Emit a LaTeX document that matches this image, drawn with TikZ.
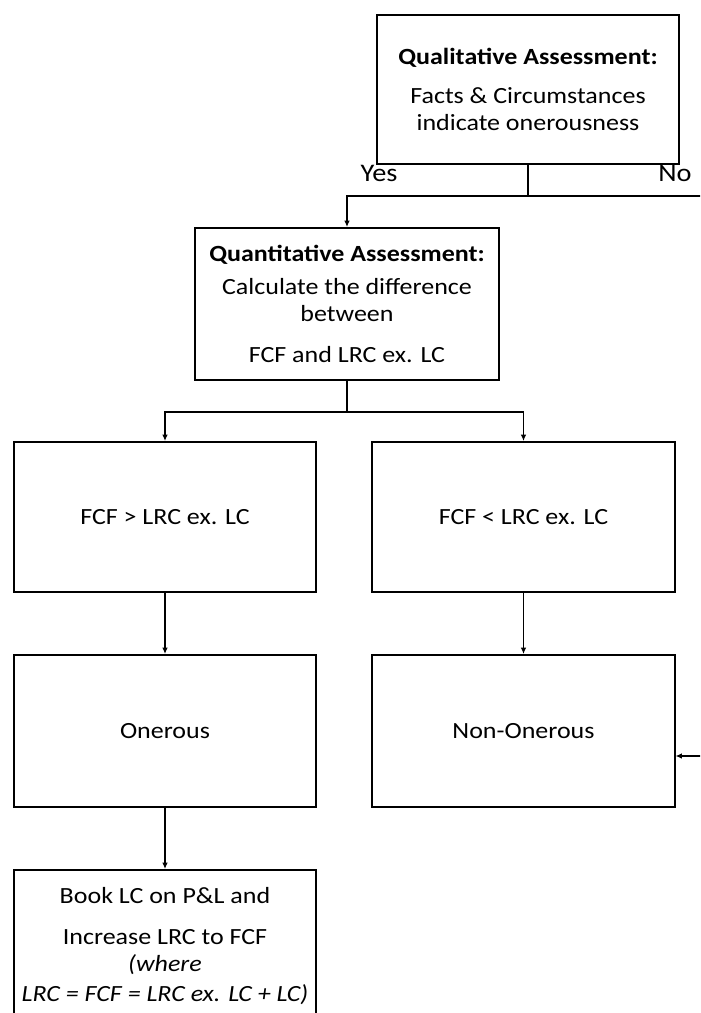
\documentclass[tikz,border=0pt]{standalone}
\usepackage{fontspec}
\setmainfont{Carlito}[FakeStretch=1.12]
\usetikzlibrary{arrows.meta,positioning}

\begin{document}
\begin{tikzpicture}[x=0.025cm, y=-0.025cm, thick]
\tikzstyle{box} = [draw, line width=1.4pt, minimum width=7.55cm, minimum height=3.8cm, inner sep=0pt, align=center, font=\fontsize{16.5}{19.2}\selectfont]
\tikzstyle{lbl} = [font=\fontsize{18}{20}\selectfont, inner sep=0pt, anchor=base]
\tikzstyle{link} = [-{Latex[length=4.5pt,width=4pt]}, line width=1.2pt]
\useasboundingbox (0,0) rectangle (700,1013);
\clip (0,0) rectangle (700,1013);

\node[box, minimum height=3.725cm] (qual) at (528,89.5)
	{\textbf{Qualitative Assessment:}\\[9pt] Facts \& Circumstances\\ indicate onerousness};
\node[box, minimum width=7.6cm] (quant) at (347,304)
	{\textbf{Quantitative Assessment:}\\[4pt] Calculate the difference\\ between\\[10pt] FCF and LRC ex. LC};
\node[box, minimum height=3.75cm] (gt) at (165,517) {FCF > LRC ex. LC};
\node[box, minimum height=3.75cm] (lt) at (523.5,517) {FCF < LRC ex. LC};
\node[box] (oner) at (165,731) {Onerous};
\node[box] (nonon) at (523.5,731) {Non-Onerous};
\node[box] (book) at (165,946)
	{Book LC on P\&L and\\[10pt] Increase LRC to FCF\\ \textit{(where}\\[2pt] \textit{LRC = FCF = LRC ex. LC + LC)}};

\node[lbl] (yes) at (379,181) {Yes};
\node[lbl] (no) at (675,181) {No};

% forks below the two assessments
\coordinate[below=0.775cm of qual] (fork1);
\coordinate[right=5cm of fork1] (noturn);
\coordinate[below=0.775cm of quant] (fork2);

\draw[line width=1.2pt] (qual) -- (fork1);
\draw[link] (fork1) -| (quant.north);
\draw[link] (fork1) -- (noturn) |- ([yshift=-0.625cm]nonon.east);

\draw[line width=1.2pt] (quant) -- (fork2);
\draw[link] (fork2) -| (gt.north);
\draw[link] (fork2) -| (lt.north);

\draw[link] (gt) -- (oner);
\draw[link] (lt) -- (nonon);
\draw[link] (oner) -- (book);
\end{tikzpicture}
\end{document}
